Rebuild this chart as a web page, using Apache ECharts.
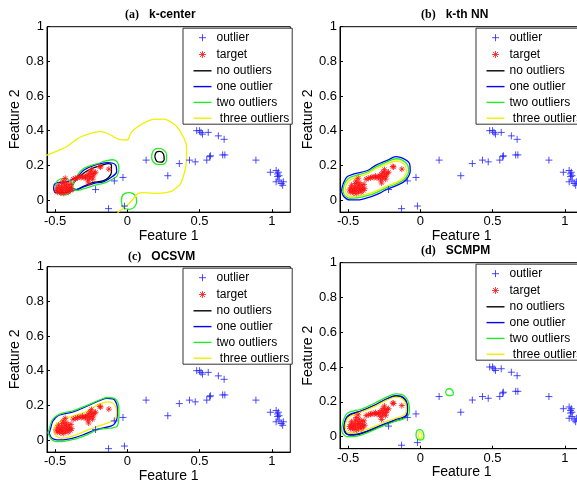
<!DOCTYPE html>
<html>
<head>
<meta charset="utf-8">
<script src="https://cdn.jsdelivr.net/npm/echarts@6/dist/echarts.min.js"></script>
<style>
  html, body { margin: 0; background: #fff; }
  #main { width: 577px; height: 482px; }
</style>
</head>
<body>
<div id="main"></div>
<script>
// ---- data ----
const outliers = [
  [-0.13, -0.05], [-0.02, -0.035], [-0.03, 0.13], [-0.09, 0.11], [-0.22, 0.06],
  [0.13, 0.23], [0.28, 0.14], [0.36, 0.21], [0.43, 0.23], [0.47, 0.22],
  [0.55, 0.23], [0.57, 0.25], [0.575, 0.255], [0.66, 0.26], [0.675, 0.26],
  [0.48, 0.40], [0.50, 0.40], [0.51, 0.39], [0.52, 0.38], [0.56, 0.39],
  [0.63, 0.37], [0.67, 0.35], [0.89, 0.23], [0.99, 0.16], [1.03, 0.17],
  [1.045, 0.16], [1.04, 0.15], [1.05, 0.14], [1.04, 0.135], [1.05, 0.115],
  [1.03, 0.105], [1.065, 0.095], [1.08, 0.105], [1.075, 0.085]
];
const targets = [
  [-0.49, 0.058], [-0.485, 0.045], [-0.48, 0.07], [-0.476, 0.085], [-0.47, 0.05],
  [-0.465, 0.062], [-0.46, 0.04], [-0.455, 0.075], [-0.45, 0.095], [-0.448, 0.055],
  [-0.444, 0.11], [-0.44, 0.038], [-0.437, 0.068], [-0.432, 0.085], [-0.43, 0.125],
  [-0.428, 0.05], [-0.424, 0.1], [-0.42, 0.075], [-0.415, 0.06], [-0.41, 0.045],
  [-0.405, 0.088], [-0.4, 0.07], [-0.395, 0.055], [-0.39, 0.09], [-0.385, 0.065],
  [-0.375, 0.12], [-0.36, 0.125], [-0.345, 0.128], [-0.335, 0.132], [-0.32, 0.13],
  [-0.31, 0.138], [-0.3, 0.128], [-0.29, 0.133], [-0.28, 0.14], [-0.275, 0.115],
  [-0.27, 0.148], [-0.268, 0.098], [-0.262, 0.125], [-0.258, 0.162], [-0.252, 0.135],
  [-0.248, 0.175], [-0.245, 0.152], [-0.24, 0.12], [-0.235, 0.138], [-0.228, 0.155],
  [-0.22, 0.16], [-0.19, 0.193], [-0.185, 0.19], [-0.128, 0.178]
];
const xTicks = [-0.5, 0, 0.5, 1];
const yTicks = [0, 0.2, 0.4, 0.6, 0.8, 1];
const legendNames = ['outlier', 'target', 'no outliers', 'one outlier', 'two outliers', ' three outliers'];
const panelTitles = [['(a)', 'k-center'], ['(b)', 'k-th NN'], ['(c)', 'OCSVM'], ['(d)', 'SCMPM']];

// (a) k-center boundaries
const kcNoneMain = [[-0.39, 0.07], [-0.36, 0.11], [-0.31, 0.15], [-0.25, 0.18], [-0.18, 0.2], [-0.13, 0.21], [-0.11, 0.2], [-0.11, 0.16], [-0.13, 0.13], [-0.17, 0.11], [-0.24, 0.1], [-0.3, 0.08], [-0.35, 0.06], [-0.39, 0.07]];
const kcNoneRing = [[0.19, 0.25], [0.2, 0.275], [0.225, 0.28], [0.25, 0.265], [0.255, 0.235], [0.235, 0.218], [0.205, 0.222], [0.19, 0.25]];
const kcOne = [[-0.51, 0.062], [-0.507, 0.087], [-0.484, 0.1], [-0.415, 0.106], [-0.346, 0.135], [-0.3, 0.173], [-0.23, 0.2], [-0.138, 0.215], [-0.08, 0.2], [-0.074, 0.163], [-0.104, 0.135], [-0.162, 0.106], [-0.23, 0.096], [-0.3, 0.077], [-0.37, 0.054], [-0.438, 0.042], [-0.495, 0.042], [-0.51, 0.062]];
const kcTwoLeft = [[-0.495, 0.077], [-0.485, 0.11], [-0.44, 0.125], [-0.395, 0.11], [-0.38, 0.077], [-0.395, 0.043], [-0.44, 0.029], [-0.485, 0.043], [-0.495, 0.077]];
const kcTwoMain = [[-0.38, 0.077], [-0.36, 0.12], [-0.33, 0.16], [-0.3, 0.183], [-0.25, 0.2], [-0.207, 0.21], [-0.15, 0.225], [-0.1, 0.232], [-0.069, 0.218], [-0.058, 0.18], [-0.07, 0.14], [-0.092, 0.125], [-0.15, 0.1], [-0.2, 0.09], [-0.254, 0.077], [-0.3, 0.065], [-0.34, 0.055], [-0.37, 0.058], [-0.38, 0.077]];
const kcTwoRing = [[0.168, 0.25], [0.18, 0.285], [0.215, 0.298], [0.25, 0.29], [0.272, 0.26], [0.27, 0.225], [0.245, 0.205], [0.205, 0.205], [0.175, 0.225], [0.168, 0.25]];
const kcTwoOrigin = [[-0.041, -0.006], [-0.03, 0.03], [0.012, 0.042], [0.05, 0.03], [0.065, -0.006], [0.05, -0.04], [0.012, -0.054], [-0.03, -0.04], [-0.041, -0.006]];
const kcThree = [[-0.6, 0.245], [-0.553, 0.26], [-0.48, 0.285], [-0.415, 0.31], [-0.36, 0.345], [-0.32, 0.365], [-0.23, 0.39], [-0.184, 0.394], [-0.115, 0.375], [-0.058, 0.35], [0, 0.346], [0.023, 0.385], [0.06, 0.415], [0.092, 0.433], [0.14, 0.455], [0.184, 0.465], [0.25, 0.467], [0.32, 0.44], [0.36, 0.405], [0.38, 0.375], [0.405, 0.33], [0.41, 0.29], [0.41, 0.23], [0.40, 0.173], [0.385, 0.13], [0.37, 0.096], [0.34, 0.07], [0.3, 0.048], [0.21, 0.038], [0.115, 0.042], [0.07, 0.035], [0.035, 0], [-0.012, -0.038], [-0.058, -0.067], [-0.08, -0.09]];

// (b) k-th NN boundaries
const nnOne = [[-0.545, 0.05], [-0.54, 0.077], [-0.525, 0.11], [-0.505, 0.135], [-0.46, 0.15], [-0.365, 0.17], [-0.31, 0.2], [-0.225, 0.23], [-0.17, 0.25], [-0.12, 0.24], [-0.075, 0.21], [-0.07, 0.17], [-0.1, 0.115], [-0.155, 0.087], [-0.24, 0.058], [-0.28, 0.04], [-0.34, 0.02], [-0.435, 0.0], [-0.49, 0.0], [-0.53, 0.02], [-0.545, 0.05]];
const nnTwo = [[-0.535, 0.05], [-0.53, 0.08], [-0.515, 0.108], [-0.49, 0.128], [-0.45, 0.14], [-0.37, 0.16], [-0.31, 0.19], [-0.23, 0.22], [-0.17, 0.238], [-0.125, 0.23], [-0.087, 0.2], [-0.082, 0.165], [-0.11, 0.12], [-0.16, 0.095], [-0.24, 0.068], [-0.29, 0.048], [-0.345, 0.03], [-0.435, 0.012], [-0.49, 0.01], [-0.522, 0.025], [-0.535, 0.05]];
const nnThree = [[-0.52, 0.055], [-0.515, 0.08], [-0.5, 0.105], [-0.475, 0.12], [-0.43, 0.133], [-0.37, 0.15], [-0.31, 0.18], [-0.23, 0.208], [-0.17, 0.225], [-0.13, 0.218], [-0.1, 0.19], [-0.097, 0.16], [-0.12, 0.125], [-0.17, 0.1], [-0.24, 0.078], [-0.29, 0.058], [-0.345, 0.04], [-0.435, 0.022], [-0.485, 0.02], [-0.51, 0.033], [-0.52, 0.055]];

// (c) OCSVM boundaries
const svOne = [[-0.54, 0.04], [-0.53, 0.07], [-0.515, 0.11], [-0.48, 0.14], [-0.44, 0.15], [-0.37, 0.163], [-0.28, 0.195], [-0.18, 0.232], [-0.14, 0.24], [-0.1, 0.237], [-0.08, 0.22], [-0.07, 0.19], [-0.07, 0.14], [-0.08, 0.105], [-0.1, 0.085], [-0.15, 0.072], [-0.22, 0.058], [-0.29, 0.035], [-0.37, 0.012], [-0.46, 0.0], [-0.51, 0.005], [-0.53, 0.018], [-0.54, 0.04]];
const svTwo = [[-0.55, 0.04], [-0.54, 0.067], [-0.52, 0.115], [-0.49, 0.14], [-0.45, 0.155], [-0.37, 0.17], [-0.28, 0.2], [-0.18, 0.235], [-0.14, 0.245], [-0.1, 0.243], [-0.075, 0.23], [-0.06, 0.2], [-0.058, 0.15], [-0.06, 0.115], [-0.07, 0.08], [-0.1, 0.07], [-0.14, 0.067], [-0.21, 0.058], [-0.28, 0.03], [-0.37, 0.004], [-0.47, -0.01], [-0.51, -0.005], [-0.53, 0.01], [-0.55, 0.04]];
const svThree = [[-0.51, 0.05], [-0.505, 0.075], [-0.47, 0.105], [-0.39, 0.135], [-0.28, 0.165], [-0.2, 0.205], [-0.14, 0.22], [-0.1, 0.212], [-0.08, 0.19], [-0.075, 0.16], [-0.08, 0.125], [-0.115, 0.105], [-0.21, 0.077], [-0.3, 0.048], [-0.39, 0.02], [-0.46, 0.01], [-0.495, 0.025], [-0.51, 0.05]];

// (d) SCMPM boundaries
const scNone = [[-0.525, 0.05], [-0.52, 0.08], [-0.505, 0.11], [-0.475, 0.127], [-0.41, 0.145], [-0.32, 0.177], [-0.225, 0.217], [-0.17, 0.232], [-0.135, 0.228], [-0.108, 0.21], [-0.093, 0.18], [-0.09, 0.145], [-0.1, 0.115], [-0.13, 0.1], [-0.18, 0.088], [-0.27, 0.06], [-0.365, 0.028], [-0.46, 0.008], [-0.5, 0.01], [-0.52, 0.028], [-0.525, 0.05]];
const scOne = [[-0.53, 0.05], [-0.525, 0.08], [-0.51, 0.112], [-0.48, 0.13], [-0.41, 0.148], [-0.32, 0.18], [-0.225, 0.22], [-0.17, 0.235], [-0.135, 0.232], [-0.105, 0.215], [-0.09, 0.185], [-0.088, 0.15], [-0.1, 0.12], [-0.13, 0.108], [-0.18, 0.095], [-0.27, 0.066], [-0.365, 0.033], [-0.46, 0.012], [-0.505, 0.012], [-0.525, 0.028], [-0.53, 0.05]];
const scTwo = [[-0.545, 0.04], [-0.54, 0.067], [-0.525, 0.11], [-0.505, 0.134], [-0.46, 0.148], [-0.41, 0.157], [-0.32, 0.19], [-0.225, 0.23], [-0.17, 0.245], [-0.13, 0.242], [-0.1, 0.225], [-0.08, 0.19], [-0.075, 0.144], [-0.09, 0.115], [-0.12, 0.1], [-0.18, 0.086], [-0.27, 0.057], [-0.365, 0.023], [-0.46, 0.0], [-0.51, 0.0], [-0.535, 0.015], [-0.545, 0.04]];
const scTwoRing = [[0.175, 0.255], [0.185, 0.272], [0.205, 0.275], [0.225, 0.262], [0.228, 0.245], [0.21, 0.235], [0.185, 0.238], [0.175, 0.255]];
const scTwoOrigin = [[-0.03, 0.01], [-0.022, 0.035], [0.0, 0.04], [0.02, 0.025], [0.025, 0.0], [0.015, -0.018], [-0.005, -0.02], [-0.025, -0.008], [-0.03, 0.01]];
const scThree = [[-0.52, 0.055], [-0.515, 0.082], [-0.5, 0.108], [-0.47, 0.123], [-0.41, 0.14], [-0.32, 0.172], [-0.225, 0.212], [-0.17, 0.227], [-0.14, 0.224], [-0.113, 0.208], [-0.098, 0.18], [-0.097, 0.15], [-0.108, 0.127], [-0.135, 0.115], [-0.18, 0.103], [-0.27, 0.075], [-0.365, 0.042], [-0.46, 0.022], [-0.5, 0.022], [-0.515, 0.035], [-0.52, 0.055]];
const scThreeOrigin = [[-0.012, 0.01], [-0.005, 0.028], [0.008, 0.02], [0.012, 0.0], [0.002, -0.012], [-0.01, -0.005], [-0.012, 0.01]];

// ---- styling ----
const colors = {
  'no outliers': '#000000',
  'one outlier': '#0000ff',
  'two outliers': '#22ee22',
  ' three outliers': '#f0f000'
};
const plusPath = 'path://M0 5H10M5 0V10';
const starPath = 'path://M0 5H10M5 0V10M1.5 1.5L8.5 8.5M8.5 1.5L1.5 8.5';

// which curves go in which panel
const panelCurves = [
  [['no outliers', kcNoneMain], ['no outliers', kcNoneRing], ['one outlier', kcOne],
   ['two outliers', kcTwoLeft], ['two outliers', kcTwoMain], ['two outliers', kcTwoRing],
   ['two outliers', kcTwoOrigin], [' three outliers', kcThree]],
  [['one outlier', nnOne], ['two outliers', nnTwo], [' three outliers', nnThree]],
  [['one outlier', svOne], ['two outliers', svTwo], [' three outliers', svThree]],
  [['no outliers', scNone], ['one outlier', scOne], ['two outliers', scTwo],
   ['two outliers', scTwoRing], ['two outliers', scTwoOrigin],
   [' three outliers', scThree], [' three outliers', scThreeOrigin]]
];

const grids = [
  { left: 47, top: 26.7, width: 243.3, height: 185.4 },
  { left: 340, top: 26.7, width: 243.3, height: 185.4 },
  { left: 47, top: 266.7, width: 243.3, height: 185.4 },
  { left: 340, top: 262.7, width: 243.3, height: 186 }
];
const titlePos = [[125, 6], [421, 6], [128, 248], [421, 242]];

const font = 'Liberation Sans, Arial, sans-serif';

const chart = echarts.init(document.getElementById('main'), null, { renderer: 'canvas' });

const series = [];
panelCurves.forEach((curves, i) => {
  curves.forEach(([name, pts]) => {
    series.push({
      type: 'line',
      name: name,
      xAxisIndex: i,
      yAxisIndex: i,
      data: pts,
      symbol: 'none',
      smooth: 0.35,
      clip: true,
      silent: true,
      z: 3,
      lineStyle: { color: colors[name], width: 1.3 },
      itemStyle: { color: colors[name] }
    });
  });
  series.push({
    type: 'scatter', name: 'outlier', xAxisIndex: i, yAxisIndex: i,
    data: outliers, symbol: plusPath, symbolSize: 7, silent: true, z: 5,
    itemStyle: { color: '#2020ff', borderColor: '#2020ff', borderWidth: 1 }
  });
  series.push({
    type: 'scatter', name: 'target', xAxisIndex: i, yAxisIndex: i,
    data: targets, symbol: starPath, symbolSize: 6, silent: true, z: 5,
    itemStyle: { color: '#ff1010', borderColor: '#ff1010', borderWidth: 1 }
  });
});

const legendData = legendNames.map((name) => {
  if (name === 'outlier') {
    return { name, icon: 'path://M0 0M18 12M5.5 6H12.5M9 2.5V9.5',
      itemStyle: { color: '#2020ff', borderColor: '#2020ff', borderWidth: 1 } };
  }
  if (name === 'target') {
    return { name, icon: 'path://M0 0M18 12M5.5 6H12.5M9 2.5V9.5M6.5 3.5L11.5 8.5M11.5 3.5L6.5 8.5',
      itemStyle: { color: '#ff1010', borderColor: '#ff1010', borderWidth: 1 } };
  }
  return { name, icon: 'path://M0 0H18V1.4H0Z',
    itemStyle: { color: colors[name], borderWidth: 0 } };
});

const option = {
  animation: false,
  backgroundColor: '#fff',
  title: panelTitles.map((t, i) => ({
    text: '{p|' + t[0] + '}  {q|' + t[1] + '}',
    left: titlePos[i][0],
    top: titlePos[i][1],
    padding: 0,
    textStyle: {
      rich: {
        p: { fontFamily: 'Liberation Serif, Times New Roman, serif', fontWeight: 'bold', fontSize: 12, color: '#000' },
        q: { fontFamily: font, fontWeight: 'bold', fontSize: 12, color: '#000' }
      }
    }
  })),
  grid: grids.map((g) => Object.assign({
    show: true, borderColor: '#000', borderWidth: 1, backgroundColor: '#fff',
    containLabel: false, outerBoundsMode: 'none'
  }, g)),
  legend: grids.map((g) => ({
    orient: 'vertical',
    left: g.left + 136,
    top: g.top + 1.5,
    padding: [3, 3, 0, 10],
    itemWidth: 18,
    itemHeight: 12,
    itemGap: 3.8,
    itemTextGap: 3,
    borderColor: '#333',
    borderWidth: 1,
    borderRadius: 0,
    backgroundColor: '#fff',
    selectedMode: false,
    symbolKeepAspect: true,
    textStyle: { color: '#000', fontSize: 12, fontFamily: font, lineHeight: 12 },
    data: legendData
  })),
  xAxis: grids.map((g, i) => ({
    type: 'value',
    gridIndex: i,
    min: -0.556,
    max: 1.128,
    name: 'Feature 1',
    nameLocation: 'middle',
    nameGap: 10,
    nameTextStyle: { color: '#000', fontSize: 14, fontFamily: font },
    axisLine: { show: true, onZero: false, lineStyle: { color: '#000', width: 1 } },
    axisTick: { show: true, inside: true, length: 3, customValues: xTicks, lineStyle: { color: '#000' } },
    axisLabel: { customValues: xTicks, color: '#000', fontSize: 13, fontFamily: font, margin: 3 },
    splitLine: { show: false }
  })),
  yAxis: grids.map((g, i) => ({
    type: 'value',
    gridIndex: i,
    min: -0.07,
    max: 1,
    name: 'Feature 2',
    nameLocation: 'middle',
    nameRotate: 90,
    nameGap: 20,
    nameTextStyle: { color: '#000', fontSize: 14, fontFamily: font },
    axisLine: { show: true, onZero: false, lineStyle: { color: '#000', width: 1 } },
    axisTick: { show: true, inside: true, length: 3, customValues: yTicks, lineStyle: { color: '#000' } },
    axisLabel: { customValues: yTicks, color: '#000', fontSize: 13, fontFamily: font, margin: 3 },
    splitLine: { show: false }
  })),
  series: series
};

chart.setOption(option);
</script>
</body>
</html>
